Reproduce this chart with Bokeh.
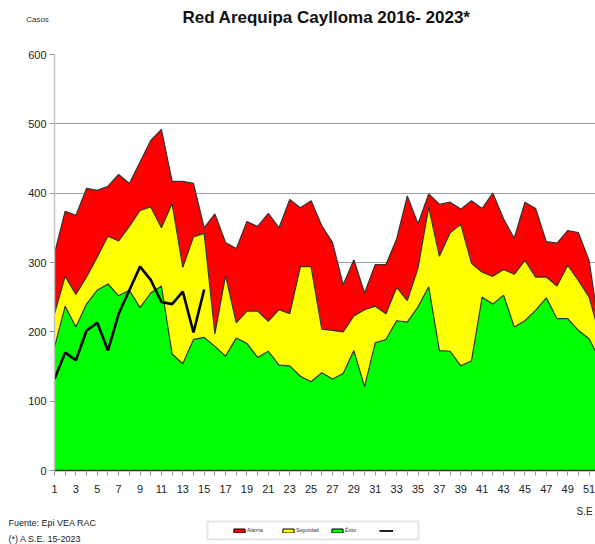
from bokeh.plotting import figure
from bokeh.models import FixedTicker, Label, Legend, LegendItem, BoxAnnotation, Range1d
from bokeh.layouts import column, row
from bokeh.embed import file_html
from bokeh.resources import INLINE

# ---------------- data ----------------
weeks = list(range(1, 53))
alarma = [313, 374, 368, 407, 404, 410, 427, 414, 445, 476, 492, 417, 417, 414, 350, 370,
          329, 320, 359, 352, 371, 350, 391, 379, 389, 353, 329, 268, 304, 256, 297, 297,
          334, 396, 356, 399, 384, 387, 377, 389, 378, 400, 363, 335, 387, 378, 330, 328,
          346, 343, 303, 200]
seguridad = [226, 280, 254, 279, 308, 338, 331, 352, 375, 380, 350, 385, 293, 337, 342, 197,
             281, 213, 230, 230, 215, 232, 226, 294, 294, 204, 202, 200, 223, 232, 237, 226,
             264, 245, 292, 380, 309, 343, 355, 299, 286, 280, 290, 283, 303, 279, 279, 266,
             296, 274, 250, 195]
exito = [178, 237, 207, 240, 260, 269, 252, 260, 235, 256, 266, 168, 154, 189, 192, 179,
         165, 191, 183, 163, 172, 152, 151, 136, 128, 141, 132, 140, 173, 121, 184, 189,
         216, 214, 236, 265, 173, 172, 151, 158, 250, 240, 253, 207, 216, 231, 249, 219,
         219, 202, 190, 160]
weeks_2023 = list(range(1, 16))
casos_2023 = [132, 170, 159, 202, 213, 173, 226, 260, 294, 275, 243, 240, 258, 199, 261]

y_ticks = [0, 100, 200, 300, 400, 500, 600]
x_label_ticks = list(range(1, 52, 2))
x_minor_ticks = list(range(2, 53, 2))

title_text = "Red Arequipa Caylloma 2016- 2023*"
y_title = "Casos"
x_title = "S.E"
source_text = "Fuente: Epi VEA RAC"
note_text = "(*) A S.E. 15-2023"
legend_labels = ["Alarma", "Seguridad", "Éxito", "-"]

FONT = "Liberation Sans Narrow, Liberation Sans, Arial, sans-serif"
W = 595


def blank_fig(height, y_top, y_bottom):
    f = figure(frame_width=W, frame_height=height, output_backend="svg", toolbar_location=None,
               x_range=Range1d(0, W), y_range=Range1d(y_bottom, y_top),
               x_axis_location=None, y_axis_location=None, min_border=0)
    f.outline_line_color = None
    f.grid.visible = False
    f.background_fill_color = "white"
    f.border_fill_color = "white"
    return f


# ---------------- top strip: title ----------------
top = blank_fig(46, 0, 46)
top.add_layout(Label(x=326, y=17, text=title_text, text_font=FONT, text_font_style="bold",
                     text_font_size="17px", text_align="center", text_baseline="alphabetic",
                     text_color="#111111"))
top.add_layout(Label(x=37, y=19, text=y_title, text_font=FONT, text_font_size="8px",
                     text_align="center", text_baseline="middle", text_color="#333333"))

# ---------------- main chart ----------------
p = figure(width=W, height=454, output_backend="svg", toolbar_location=None,
           x_range=Range1d(1, 51.6), y_range=Range1d(0, 600),
           min_border_left=54, min_border_right=0, min_border_top=8, min_border_bottom=30)
p.outline_line_color = None
p.background_fill_color = "white"
p.border_fill_color = "white"

p.varea(x=weeks, y1=seguridad, y2=alarma, fill_color="#ff0000")
p.varea(x=weeks, y1=exito, y2=seguridad, fill_color="#ffff00")
p.varea(x=weeks, y1=0, y2=exito, fill_color="#00ff00")
for series in (alarma, seguridad, exito):
    p.line(weeks, series, line_color="#333333", line_width=1.2)
p.line(weeks_2023, casos_2023, line_color="black", line_width=2.6)

p.xgrid.visible = False
p.ygrid.grid_line_color = "#a0a0a0"
p.ygrid.grid_line_width = 1.2
p.yaxis.ticker = FixedTicker(ticks=y_ticks)
p.yaxis.axis_line_color = "#c4c4c4"
p.yaxis.axis_line_width = 1.5
p.yaxis.major_tick_line_color = "#999999"
p.yaxis.major_tick_out = 5
p.yaxis.major_tick_in = 0
p.yaxis.minor_tick_line_color = None
p.yaxis.major_label_text_font = FONT
p.yaxis.major_label_text_font_size = "11px"
p.yaxis.major_label_text_color = "#222222"
p.yaxis.major_label_standoff = 3

p.xaxis.ticker = FixedTicker(ticks=x_label_ticks, minor_ticks=x_minor_ticks)
p.xaxis.axis_line_color = "#333333"
p.xaxis.axis_line_width = 1.5
p.xaxis.major_tick_line_color = "#999999"
p.xaxis.minor_tick_line_color = "#999999"
p.xaxis.major_tick_out = 5
p.xaxis.minor_tick_out = 5
p.xaxis.major_tick_in = 0
p.xaxis.minor_tick_in = 0
p.xaxis.major_label_text_font = FONT
p.xaxis.major_label_text_font_size = "11px"
p.xaxis.major_label_text_color = "#222222"
p.xaxis.major_label_standoff = 9

# ---------------- bottom strip: legend + source ----------------
bot = blank_fig(44, 500, 544)
bot.add_layout(Label(x=584, y=511, text=x_title, text_font=FONT, text_font_size="10px",
                     text_align="center", text_baseline="middle", text_color="#222222"))
bot.add_layout(Label(x=8, y=522, text=source_text, text_font=FONT, text_font_size="9px",
                     text_align="left", text_baseline="middle", text_color="#222222"))
bot.add_layout(Label(x=8, y=538, text=note_text, text_font=FONT, text_font_size="9px",
                     text_align="left", text_baseline="middle", text_color="#222222"))
bot.add_layout(BoxAnnotation(left=207, right=418, top=521, bottom=539, fill_alpha=0,
                             line_color="#a8a8a8", line_width=2))

hidden = dict(x=[-100], y=[-100])
r_red = bot.rect(width=1, height=1, fill_color="#ff0000", line_color="black", **hidden)
r_yel = bot.rect(width=1, height=1, fill_color="#ffff00", line_color="black", **hidden)
r_grn = bot.rect(width=1, height=1, fill_color="#00ff00", line_color="black", **hidden)
r_lin = bot.line(line_color="#222222", line_width=2, **hidden)

legend = Legend(items=[LegendItem(label=legend_labels[0], renderers=[r_red]),
                       LegendItem(label=legend_labels[1], renderers=[r_yel]),
                       LegendItem(label=legend_labels[2], renderers=[r_grn]),
                       LegendItem(label=legend_labels[3], renderers=[r_lin])],
                orientation="horizontal", location=(228, 7),
                glyph_width=14, glyph_height=5, label_standoff=1, label_width=30,
                spacing=4, padding=4, margin=0,
                label_text_font=FONT, label_text_font_size="5px", label_text_color="#333333",
                label_height=5, border_line_alpha=0, background_fill_alpha=0)
bot.add_layout(legend, "center")

layout = column(row(top), p, row(bot), spacing=0)
open("out.html", "w").write(file_html(layout, INLINE))
